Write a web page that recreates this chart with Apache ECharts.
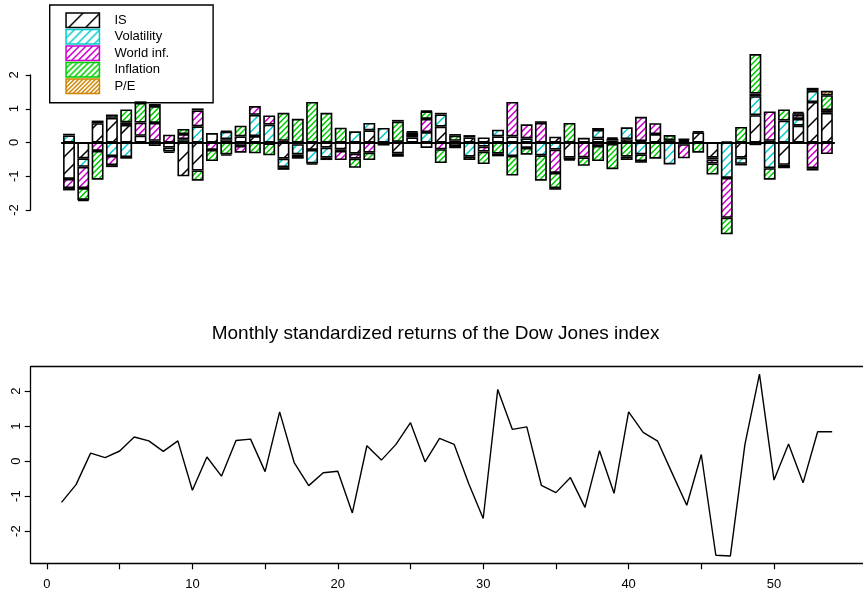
<!DOCTYPE html>
<html>
<head>
<meta charset="utf-8">
<script src="https://cdn.jsdelivr.net/npm/echarts@6/dist/echarts.min.js"></script>
<style>
  html, body { margin: 0; padding: 0; background: #fff; }
  #chart { width: 863px; height: 596px; }
</style>
</head>
<body>
<div id="chart"></div>
<script>
// factor contributions per month (stacked bars, top panel)
const factorNames = ["IS", "Volatility", "World inf.", "Inflation", "P/E"];
const isContrib = [-1.08,-0.47,0.57,0.73,0.52,0.2,0.05,-0.15,-1.0,-0.83, 0.28,0.1,0.18,0.19,-0.03,-0.48,-0.05,-0.22,-0.15,-0.2,
  -0.33,0.36,0,-0.32,0.15,-0.16,0.47,0.05,0.15,0.15, 0.18,0.18,-0.16,0,0.17,-0.45,0.14,0.12,0.06,0.1,
  0.04,0.25,0.07,0.04,0.3,-0.45,0.03,-0.45,0.81,0.05, -0.66,0.5,1.2,0.88];
const volContrib = [0.21,-0.25,0.08,-0.4,-0.43,-0.04,-0.1,-0.12,0.1,0.48, 0,0.22,-0.1,0.63,0.53,-0.25,-0.3,-0.4,-0.3,-0.05,
  0.33,0.22,0.43,-0.1,0.1,0.31,0.36,-0.1,-0.42,-0.12, 0.2,-0.4,0.12,-0.38,-0.21,-0.05,0,0.25,-0.04,0.35,
  -0.35,0,-0.65,-0.05,0,-0.05,-1.05,-0.18,0.56,-0.76, 0.65,0.2,0.33,0.08];
const worldContrib = [-0.27,-0.63,-0.25,-0.27,0.08,0.39,0.53,0.23,0.15,0.47, -0.22,0.03,-0.2,0.26,0.27,0.05,-0.05,0,-0.07,-0.27,
  -0.15,-0.3,0,0.02,-0.03,0.39,-0.2,-0.07,0.07,-0.15, 0,1.02,0.42,0.58,-0.69,0,-0.44,-0.1,0.05,0,
  0.72,0.32,0,-0.42,0,-0.12,-1.18,-0.05,0.08,0.87, -0.1,0.12,-0.76,-0.34];
const inflContrib = [-0.07,-0.35,-0.85,0.1,0.38,0.58,0.5,-0.04,0.15,-0.3, -0.33,-0.35,0.32,-0.32,-0.35,0.83,0.7,1.2,0.88,0.44,
  -0.27,-0.22,-0.09,0.6,0.05,0.22,-0.41,0.15,-0.1,-0.37, -0.33,-0.58,-0.2,-0.75,-0.45,0.58,-0.25,-0.45,-0.75,-0.42,
  -0.2,-0.48,0.15,0.04,-0.3,-0.33,-0.49,0.46,1.17,-0.34, 0.33,0.05,-0.07,0.44];
const peContrib = [0.05,-0.03,0,-0.06,-0.05,0.05,0.06,0,0,0.06, 0,-0.04,0,0,0,-0.08,-0.08,-0.03,0,0,
  0,0,0,0.05,0.03,0.02,0.05,0.05,0,0, -0.08,0,0,0.05,-0.05,-0.03,0,0.06,0.04,-0.1,
  -0.05,0,0,0.03,0.03,0,0,0,-0.08,0, 0,0.04,0.09,0.13];

// monthly standardized returns (bottom panel)
const dowReturns = [-1.18,-0.67,0.23,0.1,0.29,0.69,0.58,0.28,0.58,-0.83, 0.12,-0.43,0.59,0.63,-0.3,1.41,-0.04,-0.7,-0.33,-0.29,
  -1.48,0.44,0.03,0.48,1.1,-0.02,0.65,0.48,-0.64,-1.64, 2.05,0.91,0.98,-0.69,-0.9,-0.47,-1.32,0.3,-0.92,1.41,
  0.82,0.57,-0.35,-1.26,0.19,-2.69,-2.71,0.48,2.49,-0.54, 0.49,-0.62,0.84,0.84];

const months = dowReturns.map((v, i) => i + 1);
const yTicks = [-2, -1, 0, 1, 2];
const xTicks = [0, 5, 10, 15, 20, 25, 30, 35, 40, 45, 50];
const xLabels = [0, 10, 20, 30, 40, 50];

const factorData = [isContrib, volContrib, worldContrib, inflContrib, peContrib];
const hatchColors = ["#000000", "#00CDCD", "#CD00CD", "#00CD00", "#CD8500"];
// tile size / lines per tile, gives the hatch density of each factor
const hatchTiles = [[17, 1], [17, 2], [20, 3], [17, 3], [17, 4]];
const FONT = "Liberation Sans";

// diagonal hatch pattern, white ground
function hatch(color, size, n) {
  const c = document.createElement("canvas");
  c.width = size;
  c.height = size;
  const ctx = c.getContext("2d");
  ctx.fillStyle = "#fff";
  ctx.fillRect(0, 0, size, size);
  ctx.strokeStyle = color;
  ctx.lineWidth = 1.5;
  ctx.beginPath();
  for (let k = 0; k <= 2 * n; k++) {
    const d = (k * size) / n;
    ctx.moveTo(d + 1, -1);
    ctx.lineTo(d - size - 1, size + 1);
  }
  ctx.stroke();
  return { image: c, repeat: "repeat" };
}

const patterns = hatchColors.map((col, i) => hatch(col, hatchTiles[i][0], hatchTiles[i][1]));

const barSeries = factorNames.map((name, i) => ({
  type: "bar",
  name: name,
  stack: "factors",
  xAxisIndex: 0,
  yAxisIndex: 0,
  barWidth: 11.9,
  clip: false,
  data: factorData[i].map((v) => (v === 0 ? null : v)),
  itemStyle: { color: patterns[i], borderColor: "#000", borderWidth: 1.6 },
  emphasis: { disabled: true },
}));

const chart = echarts.init(document.getElementById("chart"), null, { renderer: "canvas" });

const boxLine = { show: true, onZero: false, lineStyle: { color: "#000", width: 1.3 } };

chart.setOption({
  animation: false,
  backgroundColor: "#fff",
  textStyle: { fontFamily: FONT, color: "#000" },
  title: {
    text: "Monthly standardized returns of the Dow Jones index",
    left: 211.7,
    top: 324.6,
    padding: 0,
    textStyle: { fontFamily: FONT, fontSize: 19, fontWeight: "normal", color: "#000" },
  },
  legend: {
    orient: "vertical",
    left: 49.7,
    top: 5,
    padding: [7.3, 44, 8.5, 15.6],
    itemWidth: 33.4,
    itemHeight: 14.4,
    itemGap: 0.6,
    icon: "rect",
    borderColor: "#000",
    borderWidth: 1.4,
    selectedMode: false,
    textStyle: { fontFamily: FONT, fontSize: 13, color: "#000", padding: [0, 0, 0, 10] },
    data: factorNames.map((name, i) => ({
      name: name,
      itemStyle: { color: patterns[i], borderColor: hatchColors[i], borderWidth: 1.5 },
    })),
  },
  grid: [
    { left: 61.85, top: 75, width: 772.2, height: 135 },
    // the box's right side lies just off the picture
    { left: 30.7, top: 366.7, width: 835.3, height: 196.6 },
  ],
  xAxis: [
    {
      type: "category",
      gridIndex: 0,
      data: months,
      z: 10,
      axisLine: { show: true, onZero: true, lineStyle: { color: "#000", width: 2 } },
      axisTick: { show: false },
      axisLabel: { show: false },
      splitLine: { show: false },
    },
    {
      type: "value",
      gridIndex: 1,
      min: -1.12,
      max: 56.12,
      axisLine: boxLine,
      axisTick: { show: true, length: 6, customValues: xTicks, lineStyle: { color: "#000", width: 1.2 } },
      axisLabel: { customValues: xLabels, margin: 15, fontSize: 13, color: "#000", fontFamily: FONT },
      splitLine: { show: false },
    },
    {
      type: "value",
      gridIndex: 1,
      position: "top",
      min: -1.12,
      max: 56.12,
      axisLine: boxLine,
      axisTick: { show: false },
      axisLabel: { show: false },
      splitLine: { show: false },
    },
  ],
  yAxis: [
    {
      type: "value",
      gridIndex: 0,
      min: -2,
      max: 2,
      interval: 1,
      offset: 31.15,
      axisLine: { show: true, lineStyle: { color: "#000", width: 1.3 } },
      axisTick: { show: true, length: 5, lineStyle: { color: "#000", width: 1.2 } },
      axisLabel: {
        rotate: 90, align: "center", verticalAlign: "bottom", margin: 10,
        fontSize: 13, color: "#000", fontFamily: FONT,
      },
      splitLine: { show: false },
    },
    {
      type: "value",
      gridIndex: 1,
      min: -2.92,
      max: 2.7,
      axisLine: boxLine,
      axisTick: { show: true, length: 6, customValues: yTicks, lineStyle: { color: "#000", width: 1.2 } },
      axisLabel: {
        customValues: yTicks, rotate: 90, align: "center", verticalAlign: "bottom", margin: 8,
        fontSize: 13, color: "#000", fontFamily: FONT,
      },
      splitLine: { show: false },
    },
  ],
  series: barSeries.concat([
    {
      type: "line",
      name: "Dow Jones",
      xAxisIndex: 1,
      yAxisIndex: 1,
      data: months.map((m, i) => [m, dowReturns[i]]),
      symbol: "none",
      lineStyle: { color: "#000", width: 1.4 },
      emphasis: { disabled: true },
    },
  ]),
});
</script>
</body>
</html>
